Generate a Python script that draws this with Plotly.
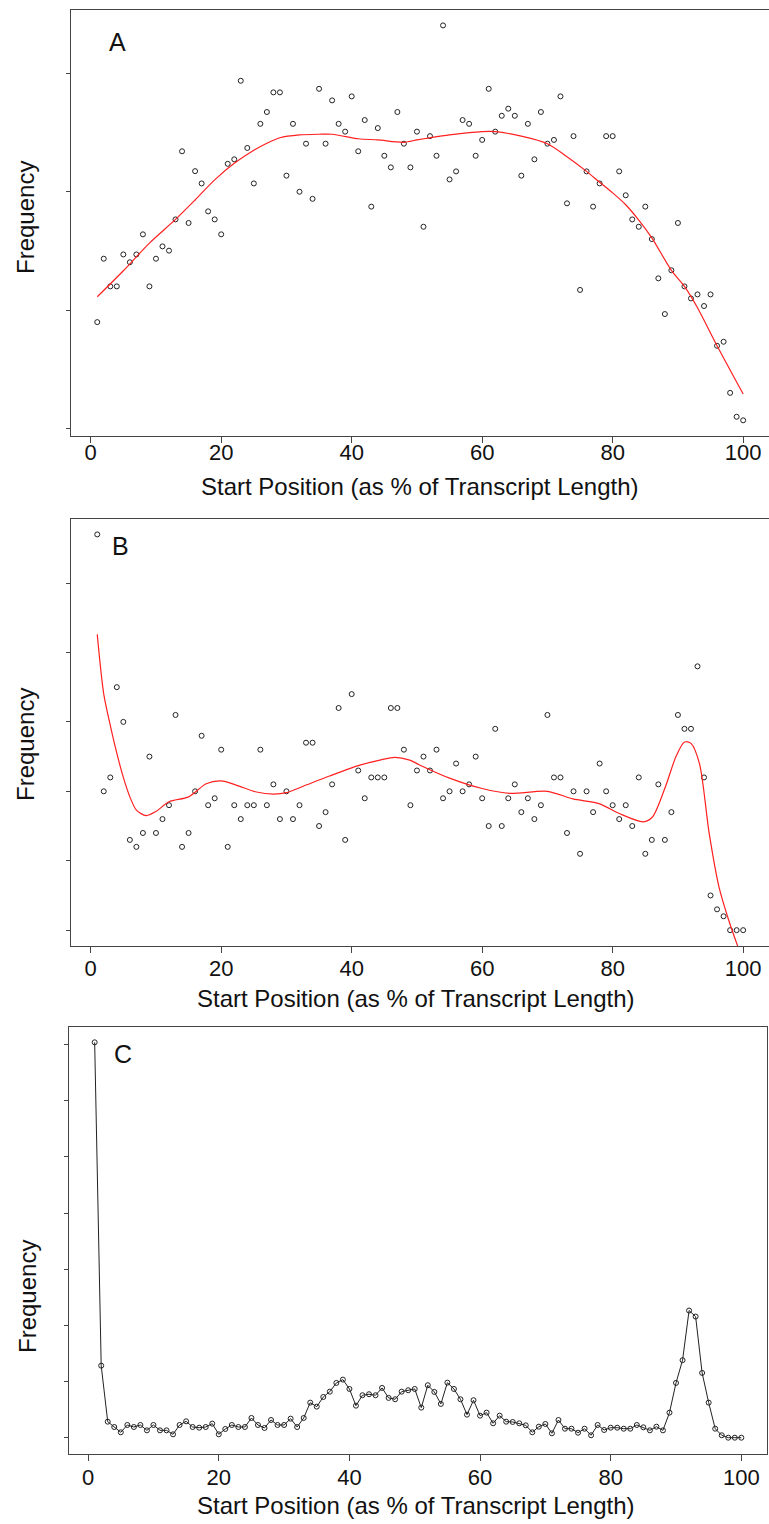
import plotly.graph_objects as go

# ---------------- data ----------------
positions = list(range(1, 101))

# Panel A: frequency (% of reads) per start position
freq_a = [0.449, 0.717, 0.600, 0.600, 0.735, 0.702, 0.735, 0.820, 0.600, 0.717,
          0.769, 0.751, 0.883, 1.171, 0.868, 1.087, 1.035, 0.917, 0.883, 0.820,
          1.118, 1.137, 1.469, 1.185, 1.035, 1.287, 1.337, 1.420, 1.420, 1.068,
          1.287, 1.000, 1.203, 0.970, 1.435, 1.203, 1.386, 1.287, 1.254, 1.403,
          1.171, 1.303, 0.937, 1.269, 1.152, 1.103, 1.337, 1.203, 1.103, 1.254,
          0.852, 1.235, 1.152, 1.703, 1.052, 1.086, 1.303, 1.287, 1.152, 1.219,
          1.435, 1.254, 1.321, 1.351, 1.321, 1.068, 1.287, 1.137, 1.337, 1.203,
          1.219, 1.403, 0.951, 1.235, 0.585, 1.086, 0.937, 1.035, 1.235, 1.235,
          1.086, 0.985, 0.883, 0.852, 0.937, 0.800, 0.634, 0.483, 0.668, 0.868,
          0.600, 0.549, 0.566, 0.517, 0.566, 0.349, 0.366, 0.150, 0.049, 0.034]
smooth_a_x = [1, 5, 9, 13, 16, 19, 22, 25, 27, 29, 32, 35, 37, 41, 44, 48, 50, 52,
              55, 60, 62, 66, 70, 73, 76, 78, 80, 82, 84, 86, 89, 91, 93, 96, 100]
smooth_a_y = [0.556, 0.666, 0.783, 0.883, 0.965, 1.050, 1.120, 1.175, 1.205, 1.228,
              1.240, 1.243, 1.243, 1.224, 1.219, 1.209, 1.219, 1.228, 1.240, 1.254,
              1.254, 1.235, 1.203, 1.148, 1.086, 1.040, 0.995, 0.945, 0.880, 0.805,
              0.668, 0.600, 0.510, 0.349, 0.145]

# Panel B: read counts per start position
count_b = [57, 20, 22, 35, 30, 13, 12, 14, 25, 14,
           16, 18, 31, 12, 14, 20, 28, 18, 19, 26,
           12, 18, 16, 18, 18, 26, 18, 21, 16, 20,
           16, 18, 27, 27, 15, 17, 21, 32, 13, 34,
           23, 19, 22, 22, 22, 32, 32, 26, 18, 23,
           25, 23, 26, 19, 20, 24, 20, 21, 25, 19,
           15, 29, 15, 19, 21, 17, 19, 16, 18, 31,
           22, 22, 14, 20, 11, 20, 17, 24, 20, 18,
           16, 18, 15, 22, 11, 13, 21, 13, 17, 31,
           29, 29, 38, 22, 5, 3, 2, 0, 0, 0]
smooth_b_x = [1, 2, 3, 4, 5, 6, 7, 8.5, 10, 12, 15, 17.7, 20, 22.3, 25.4, 28, 30,
              32.5, 36.6, 41, 44.3, 46.6, 48.9, 50.4, 55, 60, 64.2, 70, 73.9, 78,
              81, 84.7, 86.1, 88.1, 89.7, 91, 92, 93.3, 94.8, 96.3, 97.8, 99.2]
smooth_b_y = [42.6, 34.0, 29.5, 25.5, 22.0, 19.2, 17.3, 16.5, 17.1, 18.5, 19.2, 21.1,
              21.5, 20.9, 19.9, 19.6, 19.8, 20.7, 22.2, 23.7, 24.5, 24.9, 24.5, 23.8,
              21.9, 20.4, 19.7, 20.0, 18.9, 18.2, 16.8, 15.6, 16.3, 20.7, 25.0, 27.1,
              26.9, 24.0, 13.9, 6.2, 1.4, -2.4]

# Panel C: frequency per start position
freq_c = [7.04, 1.283, 0.285, 0.19, 0.096, 0.226, 0.19, 0.226, 0.131, 0.226,
          0.131, 0.131, 0.06, 0.226, 0.292, 0.19, 0.178, 0.19, 0.25, 0.06,
          0.155, 0.226, 0.19, 0.19, 0.351, 0.226, 0.173, 0.315, 0.226, 0.226,
          0.339, 0.19, 0.351, 0.624, 0.553, 0.725, 0.82, 0.975, 1.034, 0.868,
          0.570, 0.756, 0.774, 0.756, 0.886, 0.708, 0.684, 0.82, 0.845, 0.868,
          0.535, 0.934, 0.815, 0.601, 0.98, 0.868, 0.684, 0.41, 0.667, 0.392,
          0.446, 0.256, 0.392, 0.285, 0.28, 0.256, 0.22, 0.096, 0.196, 0.244,
          0.078, 0.315, 0.16, 0.16, 0.089, 0.16, 0.043, 0.226, 0.137, 0.178,
          0.178, 0.16, 0.16, 0.226, 0.185, 0.131, 0.196, 0.131, 0.446, 0.975,
          1.38, 2.264, 2.157, 1.153, 0.624, 0.16, 0.043, 0.0, 0.0, 0.0]

x_ticks = [0, 20, 40, 60, 80, 100]
y_ticks_a = [0, 0.5, 1.0, 1.5]
y_ticks_b = [0, 10, 20, 30, 40, 50]
y_ticks_c = [0, 1, 2, 3, 4, 5, 6, 7]
panel_labels = ["A", "B", "C"]
x_title = "Start Position (as % of Transcript Length)"
y_title = "Frequency"

# ---------------- figure ----------------
W, H = 769, 1524
FONT = "Liberation Sans, Arial, sans-serif"
AX = "#444444"


def rng(vals):
    lo, hi = min(vals), max(vals)
    r = hi - lo
    return [lo - 0.04 * r, hi + 0.04 * r]


xr = rng(positions)

fig = go.Figure()
marker = dict(symbol="circle-open", size=5, color="#222222", line=dict(width=1, color="#222222"))

fig.add_trace(go.Scatter(x=positions, y=freq_a, mode="markers", marker=marker,
                         xaxis="x", yaxis="y", showlegend=False))
fig.add_trace(go.Scatter(x=smooth_a_x, y=smooth_a_y, mode="lines", line=dict(color="#ff2020", width=1.2, shape="spline", smoothing=0.8),
                         xaxis="x", yaxis="y", showlegend=False))
fig.add_trace(go.Scatter(x=positions, y=count_b, mode="markers", marker=marker,
                         xaxis="x2", yaxis="y2", showlegend=False))
fig.add_trace(go.Scatter(x=smooth_b_x, y=smooth_b_y, mode="lines", line=dict(color="#ff2020", width=1.2, shape="spline", smoothing=0.8),
                         xaxis="x2", yaxis="y2", showlegend=False))
fig.add_trace(go.Scatter(x=positions, y=freq_c, mode="lines+markers", marker=marker,
                         line=dict(color="#222222", width=1),
                         xaxis="x3", yaxis="y3", showlegend=False))


def y_dom(top_px, bot_px):
    return [1 - bot_px / H, 1 - top_px / H]


def xaxis(dom, standoff):
    return dict(domain=dom, range=xr, tickvals=x_ticks, ticks="outside", ticklen=6,
                tickcolor=AX, showline=True, linecolor=AX, linewidth=1, mirror=True,
                showgrid=False, zeroline=False, ticklabelstandoff=standoff,
                tickfont=dict(family=FONT, size=22, color="#111111"))


def yaxis(dom, vals, ticks_, mirror):
    return dict(domain=dom, range=rng(vals), tickvals=ticks_, ticks="outside", ticklen=4,
                tickcolor=AX, showline=True, linecolor=AX, linewidth=1, mirror=mirror,
                showgrid=False, zeroline=False, showticklabels=False)


dom_ab = [71.4 / W, 1.0]
dom_c = [68.8 / W, 767.2 / W]

fig.update_layout(
    width=W, height=H, margin=dict(l=0, r=0, t=0, b=0),
    paper_bgcolor="white", plot_bgcolor="white",
    xaxis=dict(xaxis(dom_ab, -10), anchor="y"),
    yaxis=dict(yaxis(y_dom(9.6, 436.1), freq_a, y_ticks_a, False), anchor="x"),
    xaxis2=dict(xaxis(dom_ab, -3), anchor="y2"),
    yaxis2=dict(yaxis(y_dom(518.6, 946.0), count_b, y_ticks_b, False), anchor="x2"),
    xaxis3=dict(xaxis(dom_c, -2), anchor="y3"),
    yaxis3=dict(yaxis(y_dom(1026.5, 1453.5), freq_c, y_ticks_c, True), anchor="x3"),
)

ann = []
title_font = dict(family=FONT, size=24, color="#111111")
for cx, cy in [(420, 487), (415.5, 998), (415.5, 1505)]:
    ann.append(dict(text=x_title, x=cx / W, y=1 - cy / H, xref="paper", yref="paper",
                    showarrow=False, xanchor="center", yanchor="middle", font=title_font))
for cx, cy in [(25, 218), (25, 745), (27, 1297)]:
    ann.append(dict(text=y_title, x=cx / W, y=1 - cy / H, xref="paper", yref="paper",
                    showarrow=False, xanchor="center", yanchor="middle", textangle=-90, font=title_font))
for lab, (cx, cy) in zip(panel_labels, [(117, 42), (120, 546), (123, 1054)]):
    ann.append(dict(text=lab, x=cx / W, y=1 - cy / H, xref="paper", yref="paper",
                    showarrow=False, xanchor="center", yanchor="middle",
                    font=dict(family=FONT, size=25, color="#111111")))
fig.update_layout(annotations=ann)

fig.write_html("out.html", config={"displayModeBar": False},
               post_script="document.body.style.margin='0px';document.body.style.overflow='hidden';")
